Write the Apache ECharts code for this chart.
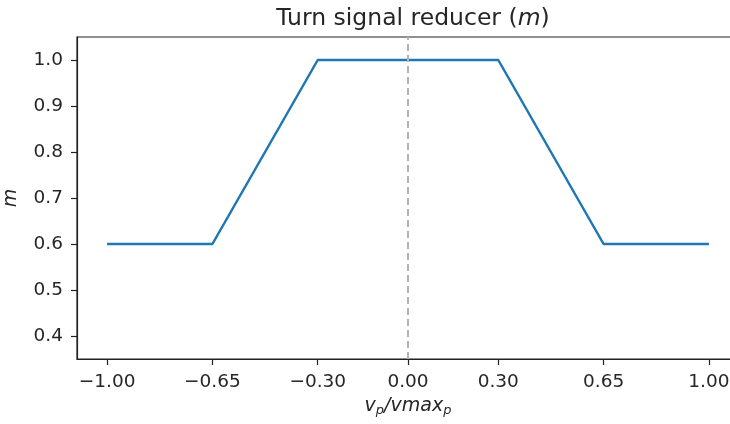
<!DOCTYPE html>
<html>
<head>
<meta charset="utf-8">
<script src="https://cdn.jsdelivr.net/npm/echarts@6/dist/echarts.min.js"></script>
<style>
  html, body { margin: 0; padding: 0; background: #fff; }
  #chart { width: 730px; height: 424px; }
</style>
</head>
<body>
<div id="chart"></div>
<script>
// breakpoints of the reducer curve
const xValues = [-1.0, -0.65, -0.3, 0.3, 0.65, 1.0]
const mValues = [0.6, 0.6, 1.0, 1.0, 0.6, 0.6]
const xTicks = [-1.0, -0.65, -0.3, 0.0, 0.3, 0.65, 1.0]
const yTicks = [0.4, 0.5, 0.6, 0.7, 0.8, 0.9, 1.0]
const centerLine = 0.0

const font = "DejaVu Sans"
const tickSize = 18.5
const ink = "#262626"

const chart = echarts.init(document.getElementById("chart"))

let option = {
    animation: false,
    textStyle: { fontFamily: font },
    title: {
        text: "Turn signal reducer ({i|m})",
        left: 408,
        top: 2,
        textAlign: "center",
        textStyle: {
            fontFamily: font,
            fontSize: 23.5,
            fontWeight: "normal",
            color: ink,
            rich: {
                i: { fontFamily: font, fontSize: 23.5, fontStyle: "italic", color: ink },
            },
        },
    },
    grid: {
        left: 77,
        top: 37,
        width: 662,
        bottom: 65,
        show: true,
        borderColor: "#222",
        borderWidth: 1.2,
        outerBoundsMode: "none",
    },
    xAxis: {
        type: "value",
        min: -1.1,
        max: 1.1,
        name: "{i|v}{s|p}{i|/vmax}{s|p}",
        nameLocation: "middle",
        nameGap: 36,
        nameTextStyle: {
            rich: {
                i: { fontFamily: font, fontSize: 19, fontStyle: "italic", color: ink, lineHeight: 22 },
                s: { fontFamily: font, fontSize: 13, fontStyle: "italic", color: ink, lineHeight: 8, verticalAlign: "bottom" },
            },
        },
        axisLine: { onZero: false, lineStyle: { color: "#222", width: 1.2 } },
        axisTick: { customValues: xTicks, length: 6, lineStyle: { color: "#222", width: 1.2 } },
        axisLabel: {
            customValues: xTicks,
            margin: 14,
            fontSize: tickSize,
            color: ink,
            formatter: (v) => v.toFixed(2).replace("-", "\u2212"),
        },
        splitLine: { show: false },
    },
    yAxis: {
        type: "value",
        min: 0.35,
        max: 1.05,
        name: "m",
        nameLocation: "middle",
        nameGap: 56,
        nameTextStyle: { fontFamily: font, fontSize: 19, fontStyle: "italic", color: ink },
        axisLine: { show: true, onZero: false, lineStyle: { color: "#222", width: 1.2 } },
        axisTick: { show: true, customValues: yTicks, length: 6, lineStyle: { color: "#222", width: 1.2 } },
        axisLabel: {
            customValues: yTicks,
            margin: 14,
            fontSize: tickSize,
            color: ink,
            formatter: (v) => v.toFixed(1),
        },
        splitLine: { show: false },
    },
    series: [
        {
            type: "line",
            data: xValues.map((x, i) => [x, mValues[i]]),
            showSymbol: false,
            lineStyle: { color: "#1f77b4", width: 2.5 },
            markLine: {
                silent: true,
                symbol: "none",
                label: { show: false },
                lineStyle: { color: "#b3b3b3", type: [7, 4], width: 2 },
                data: [{ xAxis: centerLine }],
            },
        },
    ],
}

chart.setOption(option)
</script>
</body>
</html>
